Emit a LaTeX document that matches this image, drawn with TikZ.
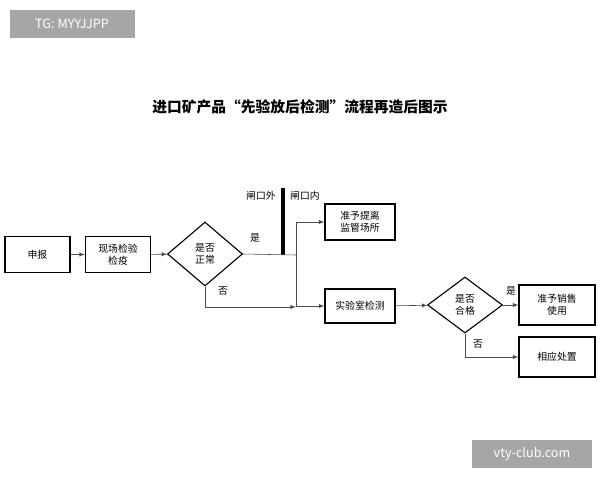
\documentclass[tikz,border=0pt]{standalone}
\usepackage{fontspec}
\setmainfont{Noto Sans CJK SC}
\usetikzlibrary{shapes.geometric}

\begin{document}
\begin{tikzpicture}[x=0.025cm,y=-0.025cm,font=\fontsize{7}{8.5}\selectfont,
  box/.style={draw,thick,minimum width=65*0.025cm,minimum height=36*0.025cm,align=center},
  choice/.style={draw,thick,diamond,aspect=1.2,minimum width=75*0.025cm,minimum height=64*0.025cm,inner sep=0pt,align=center},
  flow/.style={-latex,gray!60!black}
]
\useasboundingbox (0,0) rectangle (600,480);

% The watermarks
\node[fill=gray!70,text=white,font=\fontsize{9}{10}\selectfont,minimum width=125*0.025cm,minimum height=28*0.025cm] (tg) at (72,24) {TG: MYYJJPP};
\node[fill=gray!70,text=white,font=\fontsize{9}{10}\selectfont,minimum width=120*0.025cm,minimum height=28*0.025cm] (vty) at (532,454) {vty-club.com};

% The title
\node[font=\fontsize{10.5}{12}\selectfont\bfseries] (title) at (300,107) {进口矿产品“先验放后检测”流程再造后图示};

% The boxes
\node[box] (report) at (37.5,254.5) {申报};
\node[box] (site) at (118,254.5) {现场检验\\检疫};
\node[choice] (normal) at (205,254) {是否\\正常};
\node[box,minimum width=70*0.025cm] (leave) at (360,222) {准予提离\\监管场所};
\node[box,minimum width=70*0.025cm,minimum height=34*0.025cm] (lab) at (360,306) {实验室检测};
\node[choice,minimum height=56*0.025cm] (pass) at (465,305) {是否\\合格};
\node[box,minimum width=76*0.025cm,minimum height=40*0.025cm] (sale) at (557,305) {准予销售\\使用};
\node[box,minimum width=76*0.025cm,minimum height=40*0.025cm] (handle) at (557,357) {相应处置};

% The gate
\coordinate (split) at (296,255);
\draw[line width=2.5pt] (283,188) -- (283,255);
\node (outside) at (261,196) {闸口外};
\node (inside) at (305,196) {闸口内};

% The connectors
\draw[flow] (report) -- (site);
\draw[flow] (site) -- (normal);
\draw[gray!60!black] (normal.east) -- (split);
\draw[flow] (split) |- (leave.west);
\draw[flow] (split) |- (lab.west);
\draw[flow] (normal.south) |- (split |- 0,307);
\draw[flow] (lab) -- (pass);
\draw[flow] (pass) -- (sale);
\draw[flow] (pass.south) |- (handle.west);

% The labels
\node (yes1) at (255,238) {是};
\node (no1) at (223,291) {否};
\node (yes2) at (511,291) {是};
\node (no2) at (478,344) {否};
\end{tikzpicture}
\end{document}
